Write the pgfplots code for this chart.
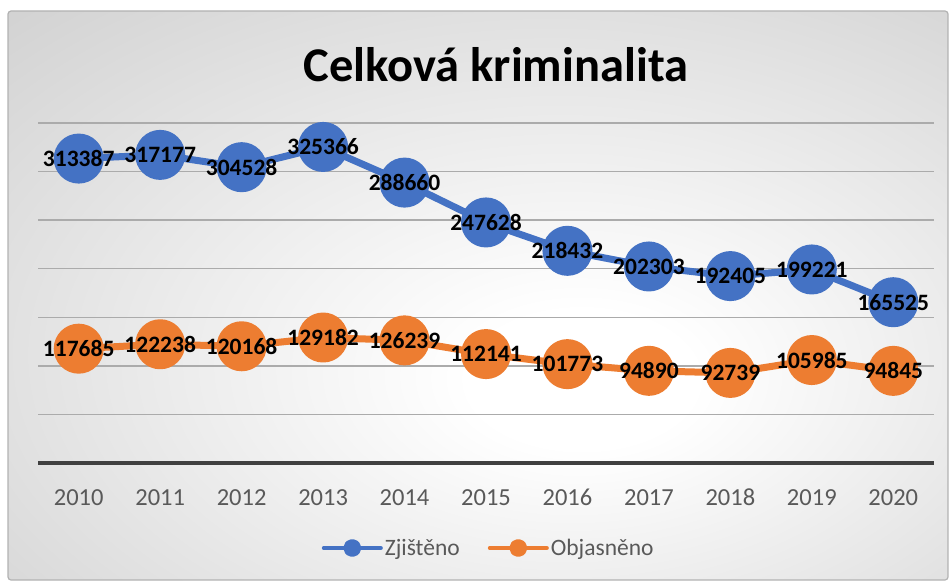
\documentclass[border=0pt]{standalone}
\usepackage{pgfplots}
\pgfplotsset{compat=1.18}
\usepackage{fontspec}
\setmainfont{Carlito}

\definecolor{zblue}{HTML}{4472C4}
\definecolor{zorange}{HTML}{ED7D31}
\definecolor{txtgray}{HTML}{595959}
\definecolor{gridgray}{HTML}{ABABAB}
\definecolor{gridlight}{HTML}{D0D0D0}
\definecolor{axisgray}{HTML}{404040}

% background of the chart area: white in the middle, grey at the edges
\pgfdeclareradialshading{chartbg}{\pgfpoint{6bp}{-8bp}}{%
  color(0bp)=(white); color(6bp)=(white); color(50bp)=(gray!45); color(80bp)=(gray!55)}

\newcommand{\lblfont}{\fontsize{23.5}{28}\selectfont}

\begin{document}
\begin{tikzpicture}
\useasboundingbox (0pt,0pt) rectangle (949pt,582pt);
\shade[shading=chartbg, rounded corners=3pt] (8pt,2pt) rectangle (948pt,571pt);
\draw[gray!60, line width=1.2pt, rounded corners=3pt] (8pt,2pt) rectangle (948pt,571pt);
\node[font=\fontsize{48.5}{56}\selectfont\bfseries, anchor=base] at (496pt,500pt) {Celková kriminalita};

\begin{axis}[
    at={(38pt,119pt)}, anchor=south west,
    scale only axis,
    width=896pt, height=340pt,
    xmin=-0.5, xmax=10.5,
    ymin=0, ymax=350000,
    clip=false,
    scaled y ticks=false,
    axis x line=bottom,
    axis y line*=left,
    y axis line style={draw=none},
    x axis line style={-, line width=3.5pt, axisgray},
    xtick={0,1,...,10},
    xticklabels={2010,2011,2012,2013,2014,2015,2016,2017,2018,2019,2020},
    xtick style={draw=none},
    xticklabel style={font=\fontsize{24.5}{29}\selectfont, text=txtgray, anchor=base, yshift=-40pt},
    ytick={50000,100000,150000,200000,250000},
    yticklabels={},
    ytick style={draw=none},
    ymajorgrids,
    major grid style={gridgray, line width=1.5pt},
    extra y ticks={300000,350000},
    extra y tick labels={},
    extra y tick style={grid style={gridlight, line width=1.5pt}},
    nodes near coords={\pgfmathprintnumber[fixed,precision=0,1000 sep={},assume math mode=true]{\pgfplotspointmeta}},
    every node near coord/.append style={anchor=center, font=\lblfont\bfseries, text=black},
    legend style={at={(0.503,-0.25)}, anchor=center, draw=none, fill=none,
        font=\lblfont, text=txtgray, nodes={inner sep=2pt},
        /tikz/every even column/.append style={column sep=26pt}},
    legend columns=2,
    legend cell align=left,
]
\addplot[zblue, line width=7pt, line join=round, mark=*, mark size=21.5pt,
    mark options={draw=none, fill=zblue},
    legend image code/.code={
        \draw[zblue, line width=4pt, line cap=round] (0pt,0pt) -- (57pt,0pt);
        \fill[zblue] (28.5pt,0pt) circle (5.5pt);}]
coordinates {
    (0,313387) (1,317177) (2,304528) (3,325366) (4,288660) (5,247628)
    (6,218432) (7,202303) (8,192405) (9,199221) (10,165525)
};
\addlegendentry{Zjištěno}
\addplot[zorange, line width=7pt, line join=round, mark=*, mark size=21.5pt,
    mark options={draw=none, fill=zorange},
    legend image code/.code={
        \draw[zorange, line width=4pt, line cap=round] (0pt,0pt) -- (57pt,0pt);
        \fill[zorange] (28.5pt,0pt) circle (5.5pt);}]
coordinates {
    (0,117685) (1,122238) (2,120168) (3,129182) (4,126239) (5,112141)
    (6,101773) (7,94890) (8,92739) (9,105985) (10,94845)
};
\addlegendentry{Objasněno}
\end{axis}
\end{tikzpicture}
\end{document}
